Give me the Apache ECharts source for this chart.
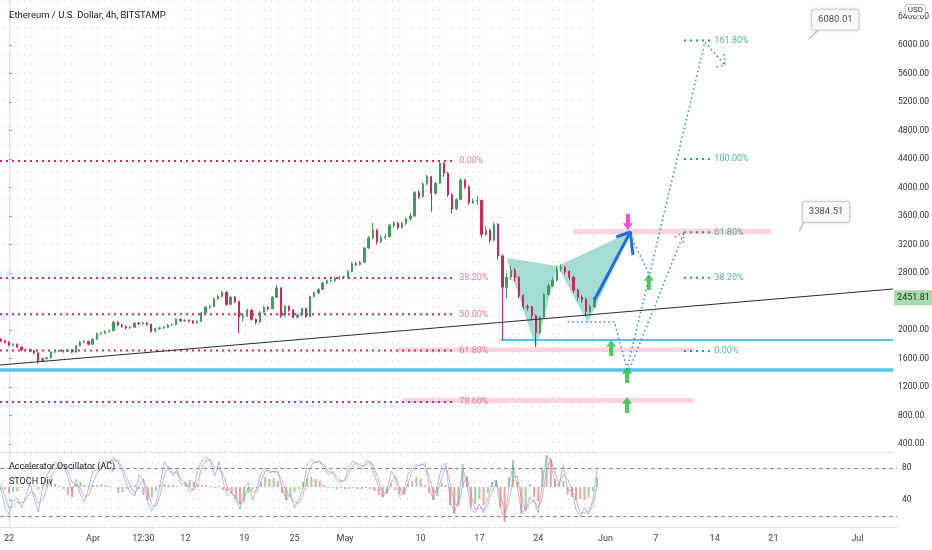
<!DOCTYPE html>
<html lang="en">
<head>
<meta charset="UTF-8">
<title>ETHUSD 4h</title>
<script src="https://cdn.jsdelivr.net/npm/echarts@6/dist/echarts.min.js"></script>
<style>
  html, body { margin: 0; padding: 0; background: #fff; }
  #main { width: 932px; height: 550px; }
</style>
</head>
<body>
<div id="main"></div>
<script>
// x values are days counted from 22 Mar 2021 00:00; one candle every 12h
var barStart = -1, barStep = 0.5;

// [open, close, low, high]
var candles = [
  [1870,1850,1830,1885],[1850,1830,1815,1862],[1830,1790,1775,1840],[1790,1800,1770,1818],[1800,1760,1745,1810],
  [1760,1720,1700,1772],[1720,1725,1700,1745],[1725,1710,1690,1740],[1710,1680,1655,1722],[1680,1570,1525,1690],
  [1570,1600,1560,1618],[1600,1610,1585,1628],[1610,1690,1600,1700],[1690,1700,1675,1718],[1700,1710,1688,1725],
  [1710,1700,1680,1722],[1700,1720,1690,1735],[1720,1690,1675,1730],[1690,1780,1685,1792],[1780,1830,1770,1845],
  [1830,1840,1815,1858],[1840,1800,1785,1850],[1800,1870,1795,1882],[1870,1950,1860,1965],[1950,1960,1935,1975],
  [1960,1980,1945,1995],[1980,1990,1965,2005],[1990,2110,1985,2130],[2110,2070,2050,2125],[2070,2050,2030,2085],
  [2050,2030,2010,2065],[2030,2040,2015,2058],[2040,2095,2030,2110],[2095,2090,2070,2112],[2090,2100,2075,2118],
  [2100,2080,2060,2112],[2080,1980,1965,2090],[1980,2020,1970,2035],[2020,2030,2005,2045],[2030,2040,2015,2055],
  [2040,2070,2030,2085],[2070,2075,2055,2090],[2075,2150,2065,2165],[2150,2130,2115,2160],[2130,2135,2115,2150],
  [2135,2125,2105,2148],[2125,2100,2085,2138],[2100,2120,2090,2135],[2120,2240,2110,2255],[2240,2320,2230,2335],
  [2320,2330,2300,2350],[2330,2440,2320,2455],[2440,2470,2420,2490],[2470,2530,2455,2550],[2530,2360,2340,2545],
  [2360,2460,2350,2478],[2460,2400,2380,2475],[2400,2180,1960,2410],[2180,2200,2120,2235],[2200,2280,2185,2300],
  [2280,2150,2130,2290],[2150,2110,2080,2165],[2110,2250,2100,2265],[2250,2320,2240,2340],[2320,2300,2275,2335],
  [2300,2460,2290,2475],[2460,2590,2450,2630],[2590,2200,2170,2600],[2200,2330,2190,2350],[2330,2280,2255,2345],
  [2280,2180,2160,2295],[2180,2210,2165,2230],[2210,2300,2195,2315],[2300,2190,2170,2310],[2190,2470,2185,2485],
  [2470,2520,2455,2540],[2520,2570,2505,2585],[2570,2660,2560,2675],[2660,2690,2640,2705],[2690,2690,2665,2710],
  [2690,2730,2680,2750],[2730,2740,2710,2760],[2740,2745,2720,2762],[2745,2820,2735,2840],[2820,2930,2810,2950],
  [2930,2920,2895,2955],[2920,2950,2905,2970],[2950,3150,2940,3170],[3150,3290,3140,3320],[3290,3400,3270,3500],
  [3400,3240,3200,3420],[3240,3300,3220,3330],[3300,3310,3270,3350],[3310,3470,3300,3490],[3470,3500,3440,3530],
  [3500,3440,3410,3520],[3440,3500,3420,3520],[3500,3560,3480,3580],[3560,3600,3540,3640],[3600,3930,3590,3950],
  [3930,3870,3840,3960],[3870,4050,3860,4070],[4050,4150,4030,4180],[4150,3920,3660,4160],[3920,4060,3900,4080],
  [4060,4340,4050,4372],[4340,4200,4150,4360],[4200,3900,3870,4220],[3900,3700,3640,3920],[3700,3830,3680,3850],
  [3830,4100,3820,4130],[4100,4010,3980,4120],[4010,3790,3760,4030],[3790,3810,3770,3840],[3810,3820,3760,3880],
  [3820,3340,3300,3830],[3340,3400,3320,3450],[3400,3260,3220,3420],[3260,3480,3250,3510],[3480,3040,2990,3500],
  [3040,2600,1860,3060],[2600,2740,2450,2800],[2740,2840,2700,2900],[2840,2740,2680,2870],[2740,2480,2450,2760],
  [2480,2330,2290,2500],[2330,2320,2270,2360],[2320,2200,2150,2340],[2200,1960,1760,2220],[1960,2180,1940,2200],
  [2180,2500,2170,2520],[2500,2620,2480,2650],[2620,2700,2600,2740],[2700,2860,2680,2900],[2860,2880,2820,2920],
  [2880,2820,2780,2900],[2820,2740,2700,2840],[2740,2560,2520,2760],[2560,2460,2410,2580],[2460,2430,2380,2490],
  [2430,2260,2200,2450],[2260,2330,2240,2360],[2330,2451.81,2310,2470]
];
var lastPrice = 2451.81;

var stochK = [
  55,33,22,40,42,30,45,61,42,25, 55,70,80,88,80,85,68,50,66,46,
  38,55,77,78,84,89,88,93,86,75, 60,48,45,72,64,38,26,36,60,88,
  78,70,78,58,63,50,54,78,90,94, 88,70,88,62,45,50,40,28,55,62,
  40,56,74,80,74,76,75,55,40,46, 30,42,54,85,90,87,88,80,72,76,
  65,62,66,82,89,84,78,89,88,71, 57,43,52,76,68,44,50,72,82,84,
  83,86,58,40,58,82,86,40,24,40, 80,61,28,24,35,24,42,60,65,30,
  16,55,84,58,25,27,44,38,24,62, 95,90,58,60,84,52,52,28,19,30,
  22,40,78
];
var stochD = [
  60,45,30,32,38,36,40,50,48,36, 40,55,68,80,83,84,76,62,60,54,
  44,46,62,74,80,86,88,90,89,80, 68,56,48,58,66,52,34,32,46,72,
  82,74,74,66,60,56,52,64,82,90, 90,80,80,72,56,48,44,34,42,56,
  50,50,64,76,77,75,75,64,50,44, 38,36,46,68,84,88,88,84,76,74,
  70,64,64,74,84,86,82,84,88,80, 64,50,48,62,70,56,48,60,76,82,
  84,84,70,50,50,68,82,62,36,32, 58,70,46,28,30,28,34,50,62,46,
  24,36,68,70,42,26,36,40,30,44, 78,92,74,60,72,66,54,40,24,24,
  26,32,58
];
var acValues = [
  -2,-2,-6,-5,-4,-1,0,1,1,-2, -1,3,4,3,1,-2,-8,-10,3,5,
  2,1,2,2,3,2,1,0,-6,-5, -2,1,2,-2,-8,-13,-10,-4,2,3,
  2,2,1,0,4,7,5,3,2,2, 1,-1,1,-3,-4,-6,-12,-17,-15,-6,
  -3,-1,5,10,8,9,6,-6,-13,-10, -5,-2,5,9,10,8,6,2,-1,-1,
  -2,-1,-2,-2,-1,-2,-2,-1,-2,-4, -8,-10,-6,4,-3,-7,-8,3,6,10,
  8,2,-6,-13,-9,4,2,-18,-27,-18, 23,10,-20,-17,-12,-18,-6,5,7,-20,
  -35,10,27,5,-27,-22,3,-10,-14,18, 32,27,8,3,6,-8,-10,-13,-12,-13,
  -10,-4,10
];

var xLabelDays = [0, 10, 16, 21, 28, 34, 40, 49, 56, 63, 71, 77, 84, 91, 101];
var xLabelText = ['22', 'Apr', '12:30', '12', '19', '25', 'May', '10', '17', '24', 'Jun', '7', '14', '21', 'Jul'];
var priceTicks = [400, 800, 1200, 1600, 2000, 2800, 3200, 3600, 4000, 4400, 4800, 5200, 5600, 6000, 6400];
var oscTicks = [40, 80];
var oscLevels = [80, 20];

// retracement drawn on the rally (left) and extension drawn on the pattern (right)
var fibLevels = [4372, 2729, 2221, 1713, 991];
var fibNames = ['0.00%', '38.20%', '50.00%', '61.80%', '78.60%'];
var fib2Levels = [6065, 4400, 3371, 2735, 1706];
var fib2Names = ['161.80%', '100.00%', '61.80%', '38.20%', '0.00%'];

// pink zones: [fromDay, toDay, lowPrice, highPrice]
var zones = [[46.5, 81.9, 1690, 1755], [47.1, 81.9, 975, 1045], [67.5, 91.1, 3345, 3420]];

var trendLine = [[-1.07, 1509], [105.71, 2576]];
var supportThick = [[-1.07, 1439], [105.71, 1439]];
var supportThin = [[58.8, 1860], [105.71, 1860]];

// harmonic pattern X, A, B, C, D
var patternDays = [59.5, 63.0, 65.6, 69.2, 74.3];
var patternPrices = [3011, 1748, 2899, 2100, 3376];
var patternTris = [[0, 1, 2], [2, 3, 4]];
var cdArrow = [[70.0, 2421], [74.3, 3376]];
var cdArrowHead = [[72.6, 3306], [74.3, 3376], [74.6, 3053]];

var path1 = [[74.3, 3334], [76.5, 2786]];
var path2 = [[66.8, 2113], [72.4, 2113], [73.9, 1453], [83.2, 6043], [85.6, 5720]];
var path2Head = [[85.5, 5874], [85.6, 5720], [84.5, 5692]];
var path3 = [[74.2, 1453], [80.7, 3362]];
var path3Head = [[79.6, 3306], [80.7, 3362], [80.6, 3208]];

var upArrows = [[76.5, 2674], [72.0, 1748], [73.9, 1369], [73.9, 948]];
var downArrows = [[74.0, 3516]];

var noteDays = [95.6, 94.5];
var notePrices = [6080, 3384.51];
var noteTexts = ['6080.01', '3384.51'];
var noteTails = [[[95.6, 6080], [96.9, 6225]], [[94.5, 3384.51], [95.1, 3530]]];

var xMin = -1.07, xMax = 105.71;
var fib1End = 53.3, fib2Start = 80.7, fib2End = 83.8;
var FONT = "'Liberation Sans Narrow', 'Arial Narrow', Roboto, sans-serif";

var gridDays = [];
for (var d = -0.6; d <= 70.5; d += 0.8) gridDays.push(d);

function seg(points, color, width, type, z) {
  return {
    type: 'line', xAxisIndex: 0, yAxisIndex: 0, data: points,
    symbol: 'none', silent: true, z: z || 3,
    lineStyle: { color: color, width: width, type: type || 'solid' }
  };
}
function gridMarks() {
  return {
    silent: true, z: 0, symbol: ['none', 'none'], label: { show: false },
    lineStyle: { color: '#e6e6e6', width: 1, type: [2, 7] },
    data: gridDays.map(function (g) { return { xAxis: g }; })
  };
}
function textPoints(xs, ys, names, color, z) {
  return {
    type: 'scatter', xAxisIndex: 0, yAxisIndex: 0, silent: true, z: z || 5,
    symbolSize: 1, itemStyle: { color: 'rgba(0,0,0,0)' },
    data: ys.map(function (p, i) { return { value: [xs, p], name: names[i] }; }),
    label: { show: true, position: 'right', distance: 4, formatter: '{b}', color: color, fontSize: 9, fontFamily: FONT }
  };
}

var myChart = echarts.init(document.getElementById('main'));

var series = [];

// background dotted grid, hosted on an invisible series underneath everything
var gridHost = seg(supportThin, 'rgba(0,0,0,0)', 0, 'solid', 0);
gridHost.markLine = gridMarks();
series.push(gridHost);

// support lines
series.push(seg(supportThin, '#56c3ec', 2, 'solid', 1));
series.push(seg(supportThick, '#56c3ec', 3.5, 'solid', 1));

// fib retracement on the left
fibLevels.forEach(function (p) {
  series.push(seg([[xMin, p], [fib1End, p]], '#e0245e', 2, [2, 4], 1));
});
series.push(textPoints(fib1End, fibLevels, fibNames, '#e8628c'));
// fib extension on the right
fib2Levels.forEach(function (p) {
  series.push(seg([[fib2Start, p], [fib2End, p]], '#1f9e7a', 2, [2, 4], 1));
});
series.push(textPoints(fib2End, fib2Levels, fib2Names, '#2aa383'));

// pattern triangles
series.push({
  type: 'custom', xAxisIndex: 0, yAxisIndex: 0, silent: true, z: 1, clip: false,
  data: [[60, 2500], [70, 2500]],
  renderItem: function (params, api) {
    var tri = patternTris[params.dataIndex];
    var pts = tri.map(function (k) { return api.coord([patternDays[k], patternPrices[k]]); });
    return { type: 'polygon', shape: { points: pts }, style: { fill: 'rgba(110,198,186,0.62)' } };
  }
});

// candles
series.push({
  type: 'candlestick', xAxisIndex: 0, yAxisIndex: 0, z: 2,
  barWidth: 1.8,
  data: candles.map(function (c, i) { return [barStart + barStep * i, c[0], c[1], c[2], c[3]]; }),
  encode: { x: 0, y: [1, 2, 3, 4] },
  itemStyle: { color: '#3c9f5a', color0: '#d6245a', borderColor: '#3c9f5a', borderColor0: '#d6245a', borderWidth: 1 },
  markArea: {
    silent: true, itemStyle: { color: 'rgba(244,143,177,0.38)' },
    data: zones.map(function (z) { return [{ coord: [z[0], z[2]] }, { coord: [z[1], z[3]] }]; })
  },
  markLine: {
    silent: true, symbol: ['none', 'none'],
    lineStyle: { color: 'rgba(0,0,0,0)', width: 0 },
    label: {
      show: true, position: 'end', distance: 1,
      formatter: function () { return lastPrice.toFixed(2); },
      backgroundColor: '#a9dcad', color: '#1c2e1d', padding: [3, 3], fontSize: 9, fontFamily: FONT
    },
    data: [{ yAxis: lastPrice }]
  }
});

series.push(seg(trendLine, '#2b2b2b', 1, 'solid', 3));

// projection
series.push(seg(cdArrow, '#1d6fe0', 3, 'solid', 4));
series.push(seg(cdArrowHead, '#1d6fe0', 3, 'solid', 4));
[path1, path2, path2Head, path3, path3Head].forEach(function (p) {
  series.push(seg(p, '#3b82e6', 1.5, [1.5, 3], 4));
});

series.push({
  type: 'scatter', xAxisIndex: 0, yAxisIndex: 0, silent: true, z: 6,
  symbol: 'path://M5,0L10,6H7V14H3V6H0Z', symbolSize: [10, 16],
  itemStyle: { color: '#1cc03a' }, data: upArrows
});
series.push({
  type: 'scatter', xAxisIndex: 0, yAxisIndex: 0, silent: true, z: 6,
  symbol: 'path://M3,0H7V8H10L5,14L0,8H3Z', symbolSize: [10, 16],
  itemStyle: { color: '#ee22cc' }, data: downArrows
});

// price notes
noteTails.forEach(function (t) { series.push(seg(t, '#c4c4c4', 1.5, 'solid', 5)); });
series.push({
  type: 'scatter', xAxisIndex: 0, yAxisIndex: 0, silent: true, z: 7,
  symbolSize: 1, itemStyle: { color: 'rgba(0,0,0,0)' },
  data: noteDays.map(function (d, i) { return { value: [d, notePrices[i]], name: noteTexts[i] }; }),
  label: {
    show: true, position: [4, -29], formatter: '{b}', color: '#222', fontSize: 9.5, fontFamily: FONT,
    backgroundColor: '#fff', borderColor: '#cfcfcf', borderWidth: 1, borderRadius: 2, padding: [5, 6],
    shadowColor: 'rgba(0,0,0,0.15)', shadowBlur: 3
  }
});

// oscillator pane
series.push({
  type: 'line', xAxisIndex: 1, yAxisIndex: 1, symbol: 'none', silent: true, z: 0,
  data: [[xMin, 50], [xMax, 50]], lineStyle: { opacity: 0 },
  markLine: gridMarks()
});
series.push({
  type: 'bar', xAxisIndex: 1, yAxisIndex: 2, barWidth: 2, silent: true,
  data: acValues.map(function (v, i) { return [barStart + barStep * i, v]; }),
  itemStyle: {
    color: function (p) {
      var i = p.dataIndex;
      return (i > 0 && acValues[i] < acValues[i - 1]) ? 'rgba(239,83,80,0.55)' : 'rgba(76,175,80,0.55)';
    }
  }
});
series.push({
  type: 'line', xAxisIndex: 1, yAxisIndex: 1, symbol: 'none', silent: true,
  data: stochD.map(function (v, i) { return [barStart + barStep * i, v]; }),
  lineStyle: { color: 'rgba(235,110,120,0.6)', width: 1 }
});
series.push({
  type: 'line', xAxisIndex: 1, yAxisIndex: 1, symbol: 'none', silent: true,
  data: stochK.map(function (v, i) { return [barStart + barStep * i, v]; }),
  lineStyle: { color: 'rgba(110,150,230,0.6)', width: 1 },
  markLine: {
    silent: true, symbol: ['none', 'none'], label: { show: false },
    lineStyle: { color: '#8a8a8a', width: 1, type: [4, 3] },
    data: oscLevels.map(function (v) { return { yAxis: v }; })
  }
});

var option = {
  animation: false,
  backgroundColor: '#ffffff',
  title: [
    { text: 'Ethereum / U.S. Dollar, 4h, BITSTAMP', left: 4, top: 6,
      textStyle: { fontSize: 9.5, fontWeight: 'normal', color: '#131722', fontFamily: FONT } },
    { text: 'USD', right: 6, top: 4, backgroundColor: '#fff', borderColor: '#bdbdbd', borderWidth: 1, borderRadius: 2,
      padding: [2, 3], textStyle: { fontSize: 8, fontWeight: 'normal', color: '#333', fontFamily: FONT } },
    { text: 'Accelerator Oscillator (AC)', left: 4, top: 457,
      textStyle: { fontSize: 9, fontWeight: 'normal', color: '#222', fontFamily: FONT } },
    { text: 'STOCH Div', left: 4, top: 472,
      textStyle: { fontSize: 9, fontWeight: 'normal', color: '#222', fontFamily: FONT } }
  ],
  grid: [
    { left: 0, right: 35, top: 0, height: 452 },
    { left: 0, right: 35, top: 453, height: 74 }
  ],
  xAxis: [
    { type: 'value', gridIndex: 0, min: xMin, max: xMax, axisLabel: { show: false }, axisTick: { show: false },
      splitLine: { show: false }, axisLine: { show: true, onZero: false, lineStyle: { color: '#e0e3eb' } } },
    { type: 'value', gridIndex: 1, min: xMin, max: xMax, splitLine: { show: false },
      axisLine: { show: true, onZero: false, lineStyle: { color: '#e0e3eb' } },
      axisTick: { show: false },
      axisLabel: {
        customValues: xLabelDays, color: '#444', fontSize: 9, fontFamily: FONT, margin: 7,
        formatter: function (v) { var k = xLabelDays.indexOf(v); return k >= 0 ? xLabelText[k] : ''; }
      } }
  ],
  yAxis: [
    { type: 'value', gridIndex: 0, position: 'right', min: 288, max: 6632, scale: true,
      splitLine: { show: false },
      axisLine: { show: true, lineStyle: { color: '#e0e3eb' } },
      axisTick: { show: true, customValues: priceTicks, length: 3, inside: false, lineStyle: { color: '#999' } },
      axisLabel: { customValues: priceTicks, color: '#333', fontSize: 8.5, fontFamily: FONT, margin: 5,
        formatter: function (v) { return v.toFixed(2); } } },
    { type: 'value', gridIndex: 1, position: 'right', min: 6.25, max: 98.75,
      splitLine: { show: false },
      axisLine: { show: true, lineStyle: { color: '#e0e3eb' } },
      axisTick: { show: true, customValues: oscTicks, length: 3, lineStyle: { color: '#999' } },
      axisLabel: { customValues: oscTicks, color: '#333', fontSize: 8.5, fontFamily: FONT, margin: 5 } },
    { type: 'value', gridIndex: 1, min: -40, max: 34, show: false }
  ],
  series: series
};

myChart.setOption(option);
</script>
</body>
</html>
